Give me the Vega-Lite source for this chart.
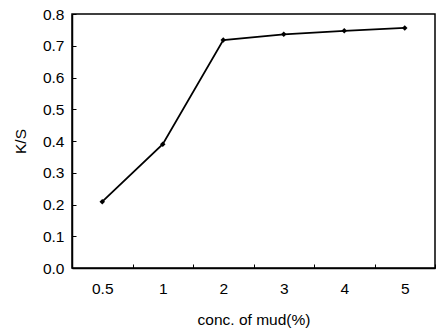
{
  "$schema": "https://vega.github.io/schema/vega-lite/v6.json",
  "autosize": "none",
  "width": 363,
  "height": 254,
  "padding": {"left": 72, "top": 14, "right": 1, "bottom": 64},
  "background": "white",
  "config": {
    "view": {"stroke": "black", "strokeWidth": 1.5},
    "font": "Liberation Sans",
    "axis": {
      "domainColor": "black",
      "domainWidth": 1.5,
      "tickColor": "black",
      "labelColor": "black",
      "titleColor": "black",
      "labelFont": "Liberation Sans",
      "titleFont": "Liberation Sans",
      "labelFontSize": 15.5,
      "titleFontSize": 15.5,
      "titleFontWeight": "normal",
      "grid": false
    }
  },
  "data": {
    "values": [
      {"conc": "0.5", "ks": 0.209},
      {"conc": "1", "ks": 0.39},
      {"conc": "2", "ks": 0.718},
      {"conc": "3", "ks": 0.736},
      {"conc": "4", "ks": 0.747},
      {"conc": "5", "ks": 0.756}
    ]
  },
  "encoding": {
    "x": {
      "field": "conc",
      "type": "ordinal",
      "sort": null,
      "scale": {"type": "band", "paddingInner": 0, "paddingOuter": 0},
      "axis": {
        "title": "conc. of mud(%)",
        "labelAngle": 0,
        "tickBand": "extent",
        "tickSize": -4,
        "labelPadding": 17,
        "titlePadding": 16
      }
    },
    "y": {
      "field": "ks",
      "type": "quantitative",
      "scale": {"domain": [0, 0.8], "nice": false},
      "axis": {
        "title": "K/S",
        "values": [0, 0.1, 0.2, 0.3, 0.4, 0.5, 0.6, 0.7, 0.8],
        "tickSize": -4,
        "labelPadding": 12,
        "titlePadding": 14
      }
    }
  },
  "layer": [
    {"mark": {"type": "line", "color": "black", "strokeWidth": 1.8}},
    {"mark": {"type": "point", "shape": "diamond", "filled": true, "color": "black", "size": 30, "opacity": 1}}
  ]
}
